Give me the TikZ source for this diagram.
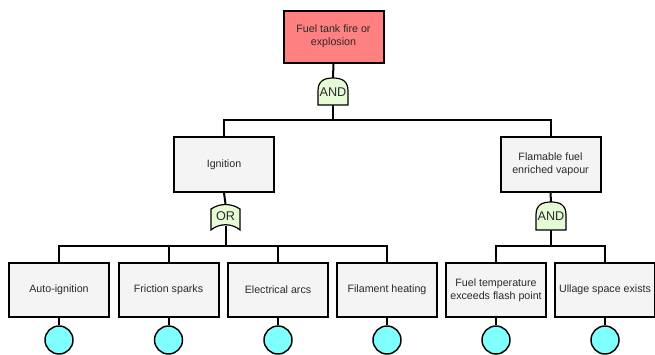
\documentclass[tikz,border=0pt]{standalone}
\usepackage{fontspec}
\setmainfont{Liberation Sans}
\definecolor{topred}{HTML}{FF8080}
\definecolor{boxgray}{HTML}{F4F4F4}
\definecolor{gategreen}{HTML}{E6FAD6}
\definecolor{basecyan}{HTML}{80FFFF}
\definecolor{txt}{HTML}{2A2A2A}
\tikzset{
  event/.style={draw=black, line width=1.5pt, fill=boxgray, minimum width=75pt, minimum height=41pt,
    inner sep=1pt, align=center, text=txt, font=\fontsize{8}{10}\selectfont},
  topevent/.style={event, fill=topred, minimum height=39pt},
  basic/.style={draw=black, line width=1.1pt, fill=basecyan, circle, minimum size=21pt, inner sep=0pt},
  gate/.style={draw=black, line width=0.9pt, fill=gategreen},
  gatelabel/.style={inner sep=0pt, text=txt, font=\fontsize{9.5}{11}\selectfont},
  conn/.style={draw=black, line width=1.5pt}
}
\begin{document}
\begin{tikzpicture}[x=0.75pt,y=-0.75pt]
\useasboundingbox (0,0) rectangle (655,354);
% events
\node[topevent] (top) at (333.5,36.5) {Fuel tank fire or\\explosion};
\node[event] (ign) at (224,164.5) {Ignition};
\node[event] (flam) at (550.5,164.5) {Flamable fuel\\enriched vapour};
\node[event] (b1) at (59,290) {Auto-ignition};
\node[event] (b2) at (168.5,290) {Friction sparks};
\node[event] (b3) at (278,290) {Electrical arcs};
\node[event] (b4) at (387,290) {Filament heating};
\node[event] (b5) at (496,290) {Fuel temperature\\exceeds flash point};
\node[event] (b6) at (605,290) {Ullage space exists};
% basic events
\foreach \i in {1,...,6} {
  \node[basic] (c\i) at ([yshift=-37.5pt]b\i.center |- 0,290) {};
}
% gate anchor points
\coordinate (g1t) at (333,78);
\coordinate (g1b) at (333,105);
\coordinate (g2t) at (225.5,204);
\coordinate (g2b) at (225.5,226);
\coordinate (g3t) at (551,202);
\coordinate (g3b) at (551,230);
% junctions
\coordinate (j1) at (333,120);
\coordinate (j2) at (225.5,246);
\coordinate (j3) at (551,246);
% connectors
\draw[conn] (top.south) -- (g1t);
\draw[conn] (g1b) -- (j1);
\draw[conn] (ign.north) |- (j1) -| (flam.north);
\draw[conn] (ign.south) -- (g2t);
\draw[conn] (g2b) -- (j2);
\draw[conn] (b1.north) |- (j2) -| (b4.north);
\draw[conn] (b2.north) -- (b2.north |- j2);
\draw[conn] (b3.north) -- (b3.north |- j2);
\draw[conn] (flam.south) -- (g3t);
\draw[conn] (g3b) -- (j3);
\draw[conn] (b5.north) |- (j3) -| (b6.north);
\foreach \i in {1,...,6} { \draw[conn] (b\i.south) -- (c\i.north); }
% gates drawn over their connectors
\path[gate] (318,105) -- (318,91) .. controls (318,81) and (324,78) .. (333,78)
  .. controls (342,78) and (348,81) .. (348,91) -- (348,105) -- cycle;
\node[gatelabel] (g1) at (333,92.5) {AND};
\path[gate] (211,230) -- (211,209) .. controls (220,203) and (231,203) .. (240,209)
  -- (240,230) .. controls (232,223) and (219,223) .. (211,230) -- cycle;
\node[gatelabel] (g2) at (225.5,216) {OR};
\path[gate] (536,230) -- (536,215) .. controls (536,205) and (542,202) .. (551,202)
  .. controls (560,202) and (566,205) .. (566,215) -- (566,230) -- cycle;
\node[gatelabel] (g3) at (551,216.5) {AND};
\end{tikzpicture}
\end{document}
